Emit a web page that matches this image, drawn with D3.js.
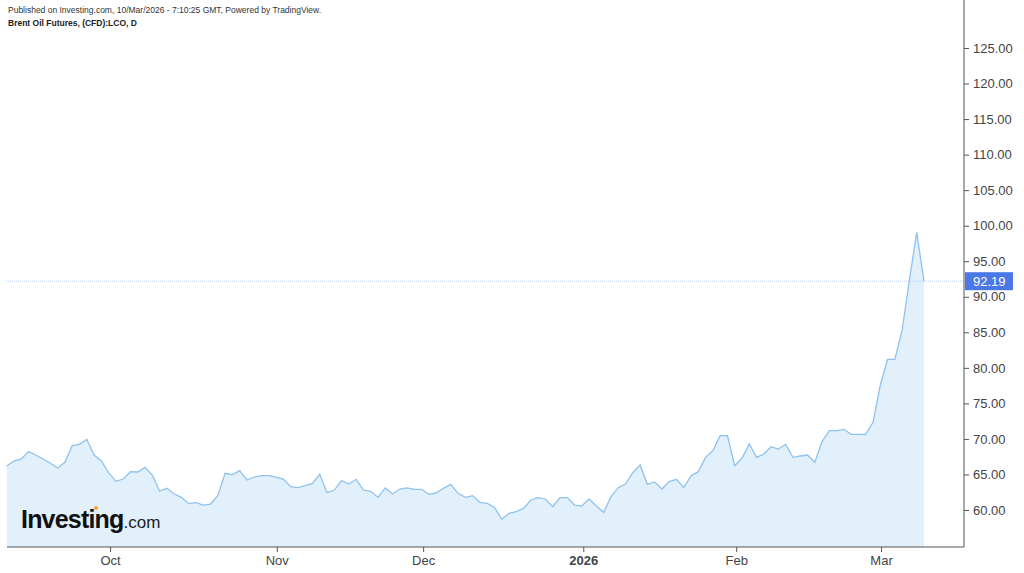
<!DOCTYPE html>
<html><head><meta charset="utf-8">
<script src="https://cdn.jsdelivr.net/npm/d3@7"></script>
<style>body{margin:0;background:#fff;}svg{display:block;font-family:"Liberation Sans",Arial,sans-serif;}</style>
</head><body>
<script>
const prices = [66.19,66.89,67.18,68.21,67.74,67.18,66.57,65.91,66.71,69.05,69.24,69.94,67.74,66.89,65.25,64.03,64.36,65.39,65.35,66.0,
64.92,62.67,63.05,62.25,61.78,60.89,61.03,60.70,60.84,62.06,65.16,64.97,65.53,64.22,64.64,64.83,64.83,64.64,64.36,63.28,
63.14,63.42,63.75,65.02,62.44,62.81,64.13,63.66,64.32,62.81,62.63,61.78,63.10,62.25,62.95,63.10,62.91,62.91,62.20,62.39,
63.05,63.61,62.35,61.78,62.02,61.08,60.94,60.38,58.69,59.53,59.77,
60.23,61.41,61.74,61.55,60.47,61.74,61.74,60.70,60.56,61.55,60.56,59.67,61.88,63.14,63.66,65.25,66.33,63.61,63.94,62.95,
63.99,64.32,63.14,64.83,65.39,67.41,68.35,70.46,70.46,66.24,67.27,69.29,67.41,67.88,68.91,68.58,69.24,67.41,67.60,67.74,
66.71,69.62,71.16,71.16,71.35,70.65,70.65,70.65,72.34,77.59,81.20,81.20,85.33,92.36,99.07,92.19];
const monthTicks = [14.2,37.1,57.2,79.2,100.2,120.1];
const monthLabels = ["Oct","Nov","Dec","2026","Feb","Mar"];
const yTicks = d3.range(60,126,5);
const lastPrice = 92.19;

const W=1024,H=573, axisX=964, axisY=547;
const svg=d3.select("body").append("svg").attr("width",W).attr("height",H);
const x=d3.scaleLinear().domain([0,prices.length-1]).range([6.7,924]);
const y=d3.scaleLinear().domain([60,125]).range([510,48]);

svg.append("path").datum(prices)
  .attr("fill","#e1f0fb")
  .attr("d",d3.area().x((d,i)=>x(i)).y0(axisY).y1(d=>y(d)));
svg.append("path").datum(prices)
  .attr("fill","none").attr("stroke","#8ec2ef").attr("stroke-width",1.3)
  .attr("d",d3.line().x((d,i)=>x(i)).y(d=>y(d)));

// last price line
svg.append("line").attr("x1",6).attr("x2",axisX).attr("y1",y(lastPrice)).attr("y2",y(lastPrice))
  .attr("stroke","#b9cff3").attr("stroke-dasharray","1,1");

// right axis
const ya=svg.append("g").attr("transform",`translate(${axisX},0)`)
  .call(d3.axisRight(y).tickValues(yTicks).tickFormat(d3.format(".2f")).tickSize(5).tickPadding(4));
ya.select(".domain").attr("d",`M0,0V${axisY}`).attr("stroke","#555");
ya.selectAll(".tick line").attr("stroke","#555");
ya.selectAll("text").attr("font-size",13).attr("fill","#444");

// bottom axis
const xa=svg.append("g").attr("transform",`translate(0,${axisY})`)
  .call(d3.axisBottom(x).tickValues(monthTicks).tickFormat((d,i)=>monthLabels[i]).tickSize(5).tickPadding(4));
xa.select(".domain").attr("d",`M7,0H${axisX}`).attr("stroke","#555");
xa.selectAll(".tick line").attr("stroke","#555");
xa.selectAll("text").attr("font-size",13).attr("fill","#444")
  .attr("font-weight",(d,i)=>monthLabels[i]==="2026"?"bold":"normal");

// price label
const ly=y(lastPrice);
svg.append("rect").attr("x",axisX+1).attr("y",ly-9).attr("width",48).attr("height",18).attr("fill","#4a78e6");
svg.append("text").attr("x",axisX+9).attr("y",ly+5).attr("fill","#fff").attr("font-size",13).text(lastPrice.toFixed(2));

// header
svg.append("text").attr("x",8).attr("y",13).attr("font-size",8.5).attr("fill","#333")
  .text("Published on Investing.com, 10/Mar/2026 - 7:10:25 GMT, Powered by TradingView.");
svg.append("text").attr("x",8).attr("y",26).attr("font-size",8.5).attr("font-weight","bold").attr("fill","#222")
  .text("Brent Oil Futures, (CFD):LCO, D");

// logo
const logo=svg.append("text").attr("x",21).attr("y",528).attr("fill","#111");
logo.append("tspan").attr("font-size",25).attr("font-weight","bold").attr("letter-spacing",-0.8).text("Investing");
logo.append("tspan").attr("font-size",17).attr("fill","#222").text(".com");
svg.append("circle").attr("cx",96).attr("cy",508).attr("r",2).attr("fill","#f5a623");
</script>
</body></html>
